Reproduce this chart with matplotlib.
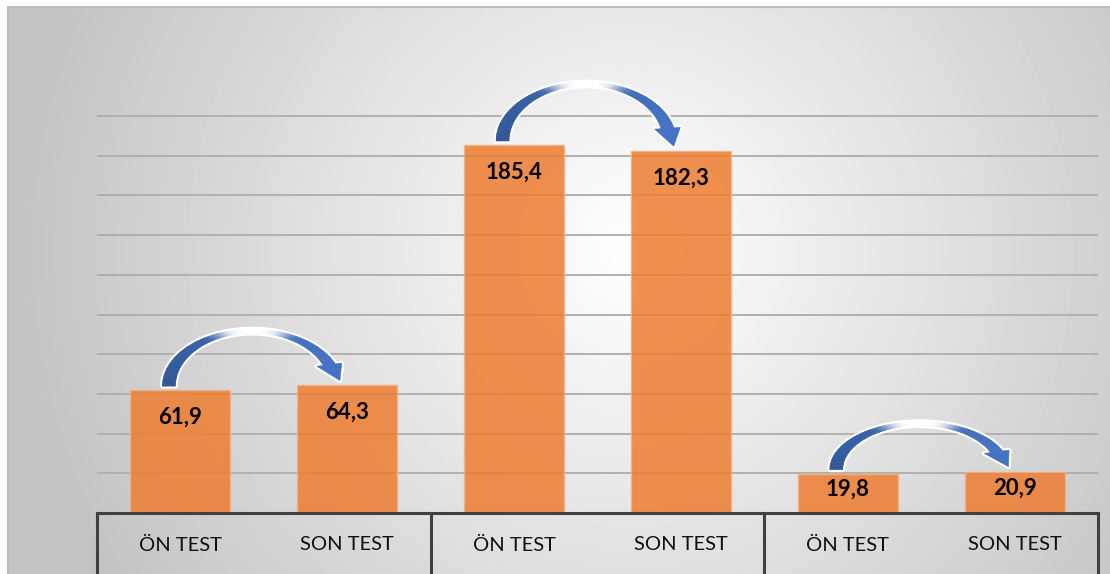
# %%
import numpy as np
import matplotlib
matplotlib.use('Agg')
import matplotlib.pyplot as plt
from matplotlib.patches import Polygon
from matplotlib.transforms import IdentityTransform

plt.rcParams['font.family'] = ['Lato', 'DejaVu Sans']

# %% data
labels = ['ÖN TEST', 'SON TEST', 'ÖN TEST', 'SON TEST', 'ÖN TEST', 'SON TEST']
values = [61.9, 64.3, 185.4, 182.3, 19.8, 20.9]
grid_ticks = [20, 40, 60, 80, 100, 120, 140, 160, 180, 200]
group_edges = [-0.5, 1.5, 3.5, 5.5]

# %% figure + background gradient
W, H = 1110, 574
fig = plt.figure(figsize=(W / 100, H / 100), dpi=100)

bg = fig.add_axes([0, 0, 1, 1], zorder=0)
yy, xx = np.mgrid[0:H, 0:W]
d = np.hypot(xx - 630, yy - 250) / 620
shade = 255 - 60 * np.clip(d, 0, 1)
shade[:7, :] = 255
shade[:, :8] = 255
bg.imshow(shade / 255, cmap='gray', vmin=0, vmax=1, extent=(0, W, H, 0),
          aspect='auto', interpolation='bilinear')
bg.plot([8, 8, W], [H, 7, 7], color='#bdbdbd', lw=1.5)
bg.set_xlim(0, W)
bg.set_ylim(H, 0)
bg.axis('off')

# %% main axes
ax = fig.add_axes([97 / W, 61 / H, 1001 / W, 436.7 / H], zorder=1)
ax.patch.set_alpha(0)
x = np.arange(len(values))
ax.bar(x, values, width=0.6, color='#ED7D31', alpha=0.85,
       edgecolor='#F4B183', lw=1, zorder=2)
ax.set_xlim(-0.5, 5.5)
ax.set_ylim(0, 220)
ax.set_yticks(grid_ticks)
ax.yaxis.grid(True, color='#b0b0b0', lw=1.4)
ax.set_axisbelow(True)
ax.tick_params(length=0, labelleft=False, labelbottom=False)
for s in ax.spines.values():
    s.set_visible(False)

# category table lines
ax.axhline(0, color='#404040', lw=2.2, clip_on=False, zorder=3)
for xe in group_edges:
    ax.axvline(xe, ymin=-0.15, ymax=0, color='#404040', lw=2.2, clip_on=False, zorder=3)

for i, lab in enumerate(labels):
    ax.annotate(lab, (i, 0), xytext=(0, -32), textcoords='offset pixels',
                ha='center', va='center', fontsize=14.5, color='#111111',
                annotation_clip=False)

for i, v in enumerate(values):
    txt = f'{v:.1f}'.replace('.', ',')
    ax.text(i, v - min(13.6, 0.4 * v), txt, ha='center', va='center',
            fontsize=16, fontweight='bold', color='black', zorder=4)

# %% curved arrows (pixel space, anchored on the bars)
arc_h = [57, 59, 48]
dark = np.array([0x2F, 0x55, 0x97]) / 255
light = np.array([0x44, 0x72, 0xC4]) / 255
rx, w, ext, L = 90, 13, 6.5, 19

for g in range(3):
    i, j = 2 * g, 2 * g + 1
    Lx, Ly = ax.transData.transform((i, values[i]))
    Rx, Ry = ax.transData.transform((j, values[j]))
    cy = Ly + 4
    ry = arc_h[g]
    ry_in = ry - 4
    cx = Lx - 18 + rx

    def outer(t):
        return np.c_[cx + rx * np.cos(t), cy + ry * np.sin(t)]

    def inner(t):
        return np.c_[cx + (rx - w) * np.cos(t), cy + ry_in * np.sin(t)]

    for te in np.linspace(0.8, 0.0, 161):
        Po = outer(np.array([te]))[0]
        Pi = inner(np.array([te]))[0]
        tv = np.array([rx * np.sin(te), -ry * np.cos(te)])
        tv = tv / np.hypot(*tv)
        tip = (Po + Pi) / 2 + tv * L
        if tip[1] <= Ry + 5:
            break
    n = (Po - Pi) / np.hypot(*(Po - Pi))
    head = [Po + n * ext, tip, Pi - n * ext]

    th = np.linspace(np.pi, te, 90)
    outline = np.vstack([outer(th), head, inner(th[::-1])])
    fig.add_artist(Polygon(outline, closed=True, transform=IdentityTransform(),
                           fc='white', ec='white', lw=3.5, joinstyle='round', zorder=5))

    o, inn = outer(th), inner(th)
    for k in range(len(th) - 1):
        tm = (th[k] + th[k + 1]) / 2
        frac = (np.pi - tm) / (np.pi - te)
        base = dark * (1 - frac) + light * frac
        f = np.exp(-((tm - np.pi / 2) / 0.42) ** 4)
        col = base * (1 - f) + f
        quad = [o[k], o[k + 1], inn[k + 1], inn[k]]
        fig.add_artist(Polygon(quad, closed=True, transform=IdentityTransform(),
                               fc=col, ec=col, lw=0.4, zorder=6))
    fig.add_artist(Polygon(head, closed=True, transform=IdentityTransform(),
                           fc=light, ec=light, lw=0.4, zorder=6))

fig.savefig('out.png', dpi=100)
